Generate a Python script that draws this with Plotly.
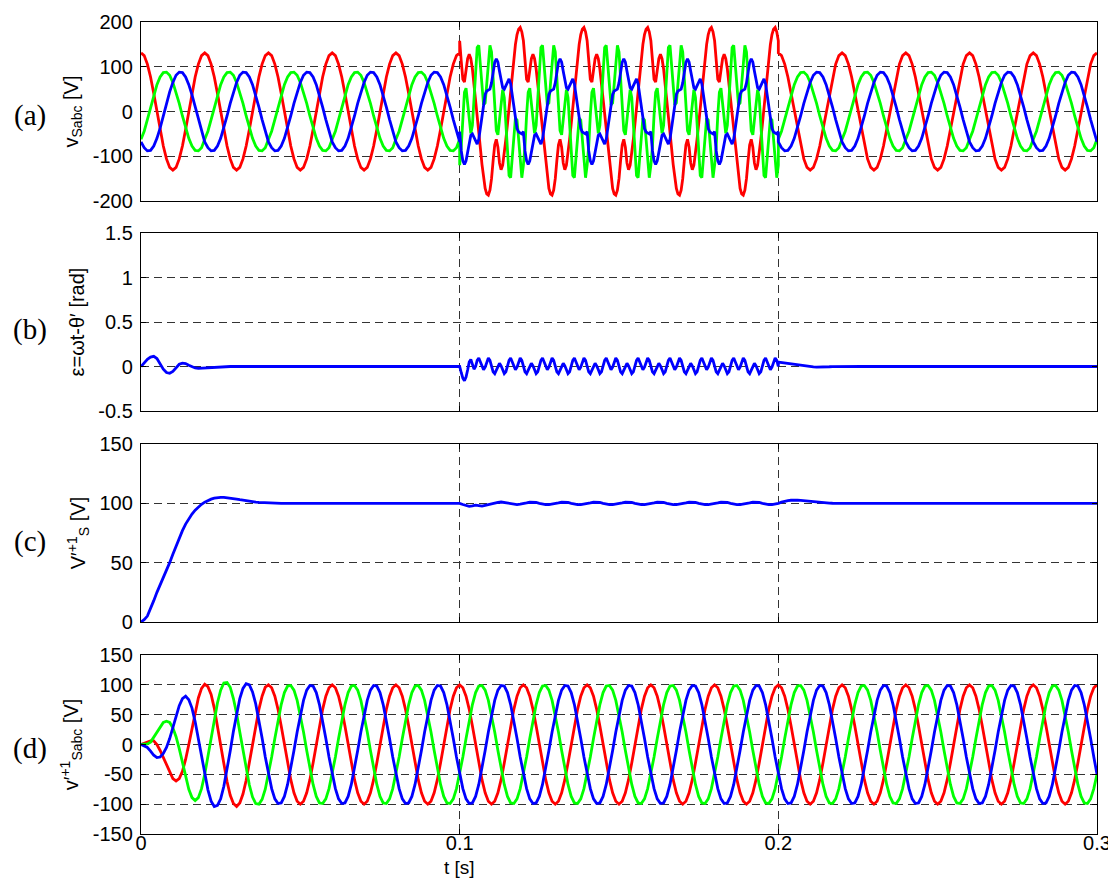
import numpy as np
import plotly.graph_objects as go

# ------------------------------------------------------------------ data
# time windows [s]
T_ON, T_OFF, T_END = 0.1, 0.2, 0.3

# (a) grid voltages v_Sabc, one 20 ms period (1 ms steps) outside the distorted window
VSA_CYCLE = [131, 125, 106, 77, 40, 0, -40, -77, -106, -125, -131, -125, -106, -77, -40, 0, 40, 77, 106, 125]
VSB_CYCLE = [-62, -44, -18, 10, 37, 60, 77, 87, 88, 81, 65, 44, 18, -10, -37, -60, -77, -87, -88, -81]
VSC_CYCLE = [-68, -81, -88, -87, -77, -60, -37, -10, 18, 44, 65, 81, 88, 87, 77, 60, 37, 10, -18, -44]

# (a) one 20 ms period (0.5 ms steps) inside the distorted window 0.1-0.2 s
VSA_DIST_CYCLE = [158, 112, 72, 66, 88, 118, 128, 118, 95, 62, 28, -8, -45, -82, -118, -150, -172, -184, -187, -176,
                  -150, -110, -75, -62, -80, -115, -130, -120, -95, -62, -28, 8, 45, 82, 118, 150, 172, 184, 188, 178]
VSB_DIST_CYCLE = [-120, -78, -8, 43, 52, 21, -24, -49, -31, 26, 96, 143, 148, 107, 52, 15, 19, 61, 115, 148,
                  133, 78, 8, -43, -52, -21, 24, 49, 31, -26, -96, -143, -148, -107, -52, -15, -19, -61, -115, -148]
VSC_DIST_CYCLE = [-45, -88, -110, -118, -110, -90, -68, -53, -50, -58, -68, -73, -62, -38, -8, 18, 38, 46, 48, 50,
                  64, 88, 110, 118, 110, 90, 68, 53, 50, 58, 68, 73, 62, 38, 8, -18, -38, -46, -48, -50]

# (b) phase error epsilon [rad]
EPS_START = [0, 0.04, 0.08, 0.105, 0.114, 0.09, 0.03, -0.03, -0.068, -0.076, -0.055, -0.01, 0.025, 0.038,
             0.033, 0.015, -0.005, -0.016, -0.02, -0.018, -0.012, -0.008, -0.005, -0.003, -0.002, 0]  # 1 ms steps
EPS_STEADY = 0.0
EPS_JUMP = [0, -0.07, -0.13, -0.16, -0.12, -0.04, 0.05, 0.08, 0.03, -0.03]              # 0.5 ms steps from 0.1 s
EPS_CYC = [0, 0.07, 0.095, 0.052, -0.008, -0.036, -0.008, 0.052, 0.095, 0.07,
           0, -0.06, -0.08, -0.045, 0.008, 0.036, 0.008, -0.045, -0.08, -0.06]              # 10 ms, 0.5 ms steps
EPS_POST = [0.05, 0.045, 0.04, 0.033, 0.026, 0.02, 0.014, 0.009, 0.005, 0.002, 0, -0.004, -0.007, -0.008,
            -0.007, -0.005, -0.003, -0.001, 0]                                               # 1 ms steps from 0.2 s

# (c) positive-sequence amplitude V'+1_S [V]
VP_START = [0, 2, 5, 11, 18, 25, 31, 37, 43, 50, 57, 64, 71, 77, 82.5, 87, 91, 94.3, 97, 99.2,
            101, 102.5, 103.5, 104.3, 104.8, 105, 105, 104.8, 104.5, 104.1, 103.6, 103.1, 102.6, 102.2,
            101.8, 101.4, 101.1, 100.8, 100.6, 100.4, 100.3, 100.2, 100.1, 100.05, 100, 100]   # 1 ms steps
VP_STEADY = 100.0
VP_JUMP = [100, 99.0, 98.0, 97.5, 97.8, 98.4, 98.1, 97.7, 98.3, 99.1]                     # 1 ms steps from 0.1 s
VP_CYC = [99.6, 100.3, 100.9, 101.1, 100.7, 100.0, 99.3, 98.9, 99.0, 99.3]                  # 10 ms ripple
VP_POST = [100, 101, 101.8, 102.3, 102.6, 102.8, 102.7, 102.5, 102.2, 101.9, 101.5, 101.2, 100.9,
           100.6, 100.4, 100.25, 100.15, 100.08, 100.03, 100]                                # 1 ms steps from 0.2 s

# (d) estimated positive-sequence voltages v'+1_Sabc [V], start-up 0-39 ms (1 ms steps)
VD_A_START = [0, 2, 4, 6, 6, 0, -10, -22, -35, -48, -57, -61, -57, -45, -25, 0, 28, 55, 78, 94,
              101, 97, 84, 61, 32, 0, -32, -62, -85, -99, -104, -98, -83, -60, -31, 0, 31, 59, 81, 96]
VD_B_START = [0, 0, 1, 4, 12, 22, 30, 37, 39, 37, 28, 13, -7, -31, -55, -75, -89, -94, -89, -74,
              -50, -21, 11, 42, 70, 91, 103, 104, 96, 77, 52, 21, -11, -42, -68, -88, -99, -100, -92, -75]
VD_C_START = [0, -2, -5, -11, -18, -22, -21, -15, -5, 10, 28, 48, 65, 77, 81, 75, 61, 38, 10, -21,
              -50, -76, -95, -104, -102, -91, -70, -43, -11, 22, 52, 77, 94, 102, 100, 88, 68, 41, 11, -21]
# (d) steady 20 ms period (1 ms steps)
VD_A_CYCLE = [100, 95, 81, 59, 31, 0, -31, -59, -81, -95, -100, -95, -81, -59, -31, 0, 31, 59, 81, 95]
VD_B_CYCLE = [-50, -21, 10, 41, 67, 87, 98, 99, 91, 74, 50, 21, -10, -41, -67, -87, -98, -99, -91, -74]
VD_C_CYCLE = [-50, -74, -91, -99, -98, -87, -67, -41, -10, 21, 50, 74, 91, 99, 98, 87, 67, 41, 10, -21]

X_TICKS = [0, 0.1, 0.2, 0.3]
X_TICKTEXT = ["0", "0.1", "0.2", "0.3"]
YA_TICKS = [-200, -100, 0, 100, 200]
YB_TICKS = [-0.5, 0, 0.5, 1, 1.5]
YB_TICKTEXT = ["-0.5", "0", "0.5", "1", "1.5"]
YC_TICKS = [0, 50, 100, 150]
YD_TICKS = [-150, -100, -50, 0, 50, 100, 150]

# ------------------------------------------------------------------ build series
t_pre = np.linspace(0, T_ON, 101)          # 1 ms
t_dist = np.linspace(T_ON, T_OFF, 201)     # 0.5 ms
t_dist_1ms = np.linspace(T_ON, T_OFF, 101)
t_post = np.linspace(T_OFF, T_END, 101)
t_full = np.linspace(0, T_END, 301)


def periodic(cycle, n_points):
    return (cycle * (n_points // len(cycle) + 1))[:n_points]


t_a = np.concatenate([t_pre, t_dist, t_post])


def phase_a(ss, dist):
    return periodic(ss, 101) + periodic(dist, 201) + periodic(ss, 101)


va, vb, vc = (phase_a(VSA_CYCLE, VSA_DIST_CYCLE),
              phase_a(VSB_CYCLE, VSB_DIST_CYCLE),
              phase_a(VSC_CYCLE, VSC_DIST_CYCLE))

t_b = np.concatenate([t_pre, t_dist, t_post])
eps = (EPS_START + [EPS_STEADY] * (101 - len(EPS_START))
       + EPS_JUMP + periodic(EPS_CYC, 201 - len(EPS_JUMP))
       + EPS_POST + [EPS_STEADY] * (101 - len(EPS_POST)))

t_c = np.concatenate([t_pre, t_dist_1ms, t_post])
vp = (VP_START + [VP_STEADY] * (101 - len(VP_START))
      + VP_JUMP + periodic(VP_CYC, 101 - len(VP_JUMP))
      + VP_POST + [VP_STEADY] * (101 - len(VP_POST)))

vda = VD_A_START + periodic(VD_A_CYCLE, 301 - len(VD_A_START))
vdb = VD_B_START + periodic(VD_B_CYCLE, 301 - len(VD_B_START))
vdc = VD_C_START + periodic(VD_C_CYCLE, 301 - len(VD_C_START))

# ------------------------------------------------------------------ figure
# the page puts the figure 8 px from the top-left corner of the window
OFF = 8
W, H = 1116 - OFF, 882 - OFF
RED, GREEN, BLUE = "#ff0000", "#00ff00", "#0000ff"
LW = 2.8
FONT = "Arial, Liberation Sans, sans-serif"
SERIF = "Times New Roman, Liberation Serif, serif"
FS = 20


def px_x(p):
    return (p - OFF) / W


def px_y(p):
    return 1 - (p - OFF) / H


x0, x1 = px_x(141), px_x(1097)
panels = [(22, 201), (233, 411), (444, 622), (655, 834)]  # window pixel top/bottom
doms = [[px_y(b), px_y(t)] for t, b in panels]

fig = go.Figure()


def add(x, y, color, ax):
    fig.add_trace(go.Scatter(x=x, y=y, mode="lines", line=dict(color=color, width=LW),
                             xaxis="x" + ax, yaxis="y" + ax, showlegend=False, hoverinfo="skip"))


add(t_a, va, RED, "")
add(t_a, vb, GREEN, "")
add(t_a, vc, BLUE, "")
add(t_b, eps, BLUE, "2")
add(t_c, vp, BLUE, "3")
add(t_full, vda, RED, "4")
add(t_full, vdb, GREEN, "4")
add(t_full, vdc, BLUE, "4")

grid = dict(showgrid=True, griddash="8px,5px", gridcolor="#333333", gridwidth=1,
            showline=True, linecolor="black", linewidth=1.4, mirror="ticks",
            ticks="inside", ticklen=5, tickcolor="black", tickwidth=1, automargin=False,
            zeroline=False, tickfont=dict(family=FONT, size=FS, color="black"))

layout = dict(width=W, height=H, margin=dict(l=0, r=0, t=0, b=0), autosize=False,
              paper_bgcolor="white", plot_bgcolor="white", showlegend=False)

yspec = [
    (YA_TICKS, [str(v) for v in YA_TICKS], [-200, 200], "v<sub>Sabc</sub> [V]"),
    (YB_TICKS, YB_TICKTEXT, [-0.5, 1.5], "ε=ωt-θ′ [rad]"),
    (YC_TICKS, [str(v) for v in YC_TICKS], [0, 150], "V′<sup>+1</sup><sub>S</sub> [V]"),
    (YD_TICKS, [str(v) for v in YD_TICKS], [-150, 150], "v′<sup>+1</sup><sub>Sabc</sub> [V]"),
]

for i in range(4):
    suf = "" if i == 0 else str(i + 1)
    layout["xaxis" + suf] = dict(domain=[x0, x1], range=[0, 0.3], tickvals=X_TICKS, ticktext=X_TICKTEXT,
                                 showticklabels=(i == 3), anchor="y" + suf, ticklabelstandoff=-9, **grid)
    tv, tt, rg, title = yspec[i]
    layout["yaxis" + suf] = dict(domain=doms[i], range=rg, tickvals=tv, ticktext=tt, anchor="x" + suf,
                                 ticklabelstandoff=3,
                                 title=dict(text=title, font=dict(family=FONT, size=FS, color="black"),
                                            standoff=8), **grid)

fig.update_layout(**layout)

labels = ["(a)", "(b)", "(c)", "(d)"]
label_y = [115, 329, 541, 748]
for lab, ly in zip(labels, label_y):
    fig.add_annotation(text=lab, x=px_x(30), y=px_y(ly), xref="paper", yref="paper", showarrow=False,
                       font=dict(family=SERIF, size=29, color="black"), xanchor="center", yanchor="middle")

fig.add_annotation(text="t [s]", x=0.1, y=px_y(867), xref="x4", yref="paper", showarrow=False,
                   font=dict(family=FONT, size=FS - 1, color="black"), xanchor="center", yanchor="middle")

fig.write_html("out.html")
